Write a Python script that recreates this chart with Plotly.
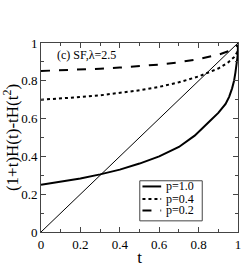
import plotly.graph_objects as go

t_p10 = [0.0, 0.1, 0.2, 0.3, 0.4, 0.5, 0.6, 0.7, 0.78, 0.86, 0.9, 0.937, 0.955, 0.97, 0.98, 0.987, 0.994, 0.998, 1.0]
v_p10 = [0.25, 0.265, 0.283, 0.305, 0.33, 0.362, 0.40, 0.45, 0.51, 0.59, 0.63, 0.678, 0.715, 0.76, 0.80, 0.845, 0.89, 0.93, 0.99]

t_p04 = [0.0, 0.1, 0.2, 0.3, 0.4, 0.5, 0.6, 0.7, 0.8, 0.9, 0.95, 0.98, 0.995, 1.0]
v_p04 = [0.70, 0.706, 0.714, 0.723, 0.735, 0.75, 0.768, 0.792, 0.823, 0.865, 0.897, 0.925, 0.95, 0.965]

t_p02 = [0.0, 0.1, 0.2, 0.3, 0.4, 0.5, 0.6, 0.7, 0.8, 0.9, 0.95, 0.98, 1.0]
v_p02 = [0.852, 0.855, 0.859, 0.864, 0.87, 0.877, 0.886, 0.898, 0.915, 0.938, 0.956, 0.972, 0.99]

t_diag = [0.0, 1.0]
v_diag = [0.0, 1.0]

series_names = ["p=1.0", "p=0.4", "p=0.2"]
series_dash = ["solid", "dot", "dash"]

tick_vals = [0, 0.2, 0.4, 0.6, 0.8, 1]
tick_text = ["0", "0.2", "0.4", "0.6", "0.8", "1"]

FONT = "Times New Roman, Liberation Serif, serif"

fig = go.Figure()
fig.add_trace(go.Scatter(x=t_diag, y=v_diag, mode="lines", showlegend=False,
                         line=dict(color="black", width=1)))
for tx, vy, nm, ds in zip([t_p10, t_p04, t_p02], [v_p10, v_p04, v_p02], series_names, series_dash):
    fig.add_trace(go.Scatter(x=tx, y=vy, mode="lines", name=nm, showlegend=False,
                             line=dict(color="black", width=2, dash=ds)))

axis_common = dict(
    range=[0, 1], tickvals=tick_vals, ticktext=tick_text,
    ticks="inside", ticklen=5, tickwidth=1, tickcolor="#444",
    showline=True, linecolor="#444", linewidth=1, mirror="ticks",
    showgrid=False, zeroline=False,
    tickfont=dict(family=FONT, size=13, color="black"),
    minor=dict(dtick=0.1, ticks="inside", ticklen=3, tickcolor="#444", showgrid=False),
)

fig.update_xaxes(**axis_common, title=dict(text="t", font=dict(family=FONT, size=17, color="black"), standoff=0))
fig.update_yaxes(**axis_common, title=dict(text="(1+t)H(t)-tH(t<sup>2</sup>)", font=dict(family=FONT, size=17, color="black"), standoff=4))

fig.add_annotation(x=0.07, y=0.934, xref="x", yref="y", text="(c) SF,λ=2.5",
                   showarrow=False, xanchor="left", yanchor="middle",
                   font=dict(family=FONT, size=12, color="black"))

# manual compact legend
fig.add_shape(type="rect", xref="paper", yref="paper", x0=0.5015, x1=0.8185, y0=0.059, y1=0.271,
              line=dict(color="#444", width=1), fillcolor="white", layer="above")
leg_rows = [0.241, 0.175, 0.114]
for ry, nm, ds in zip(leg_rows, series_names, series_dash):
    fig.add_shape(type="line", xref="paper", yref="paper", x0=0.515, x1=0.61, y0=ry, y1=ry,
                  line=dict(color="black", width=2, dash=ds), layer="above")
    fig.add_annotation(x=0.63, y=ry, xref="paper", yref="paper", text=nm, showarrow=False,
                       xanchor="left", yanchor="middle", borderpad=0,
                       font=dict(family=FONT, size=12, color="black"))

fig.update_layout(
    width=245, height=267,
    margin=dict(l=41, r=4, t=43, b=26),
    plot_bgcolor="white", paper_bgcolor="white",
    showlegend=False,
    font=dict(family=FONT, color="black"),
)

fig.write_html("out.html", config={"displayModeBar": False},
               post_script="document.body.style.margin='0';")
